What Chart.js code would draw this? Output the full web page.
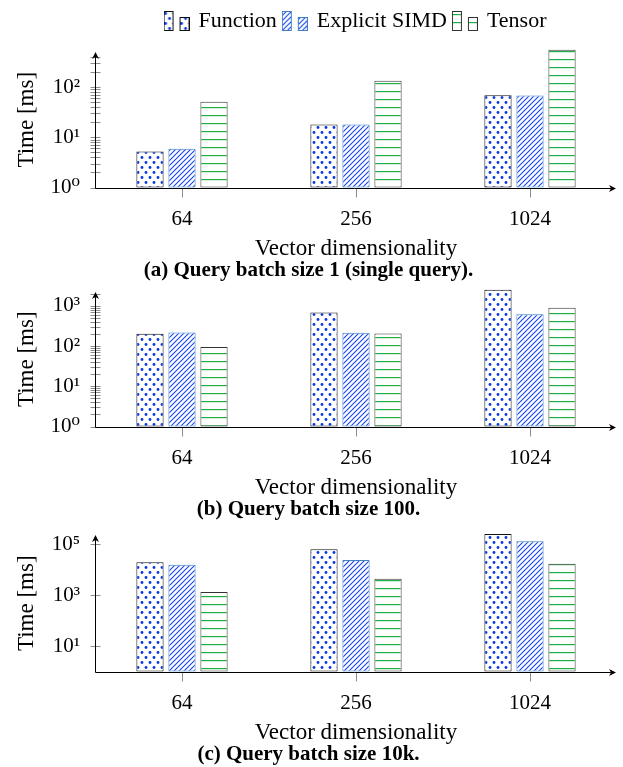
<!DOCTYPE html>
<html>
<head>
<meta charset="utf-8">
<script src="https://cdn.jsdelivr.net/npm/chart.js@4.4.1/dist/chart.umd.min.js"></script>
<style>
body{margin:0;background:#fff;width:623px;height:767px;overflow:hidden;position:relative;}
.box{position:absolute;left:0;width:623px;}
</style>
</head>
<body>
<div class="box" style="top:0;height:282px"><canvas id="chartA"></canvas></div>
<div class="box" style="top:262px;height:259px"><canvas id="chartB"></canvas></div>
<div class="box" style="top:505px;height:261px"><canvas id="chartC"></canvas></div>
<script>
const dims = ["64", "256", "1024"];
const seriesNames = ["Function", "Explicit SIMD", "Tensor"];

// (a) batch size 1
const funcA = [5.2, 18, 69];
const simdA = [5.9, 18, 68];
const tensorA = [51, 134, 555];
const yTicksA = [1, 10, 100];
const yLabelsA = ["10⁰", "10¹", "10²"];

// (b) batch size 100
const funcB = [202, 676, 2500];
const simdB = [218, 214, 620];
const tensorB = [94, 205, 895];
const yTicksB = [1, 10, 100, 1000];
const yLabelsB = ["10⁰", "10¹", "10²", "10³"];

// (c) batch size 10k
const funcC = [19400, 63000, 249000];
const simdC = [15700, 23900, 131000];
const tensorC = [1340, 4370, 17200];
const yTicksC = [10, 1000, 100000];
const yLabelsC = ["10¹", "10³", "10⁵"];

const FONT = "'Liberation Serif', 'DejaVu Serif', serif";

function makeTile(w, h, draw){
    const c = document.createElement("canvas");
    c.width = w; c.height = h;
    const g = c.getContext("2d");
    g.fillStyle = "#fff";
    g.fillRect(0, 0, w, h);
    draw(g, w, h);
    return c;
}

const dotTile = makeTile(8, 10, g => {
    g.fillStyle = "#0636e6";
    [[2, 2.5], [6, 7.5]].forEach(p => {
        g.beginPath(); g.arc(p[0], p[1], 1.4, 0, Math.PI * 2); g.fill();
    });
});
const hatchTile = makeTile(5, 5, g => {
    g.strokeStyle = "#1544f0";
    g.lineWidth = 1.1;
    g.beginPath();
    g.moveTo(-1, 6); g.lineTo(6, -1);
    g.moveTo(-1, 1); g.lineTo(1, -1);
    g.moveTo(4, 6); g.lineTo(6, 4);
    g.stroke();
});
const lineTile = makeTile(4, 8, g => {
    g.fillStyle = "#1fae45";
    g.fillRect(0, 3, 4, 1.2);
});

const pctx = document.createElement("canvas").getContext("2d");
const fills = [
    pctx.createPattern(dotTile, "repeat"),
    pctx.createPattern(hatchTile, "repeat"),
    pctx.createPattern(lineTile, "repeat")
];
const borders = ["#111", "#3f80c6", "#333"];

function legendIcon(i){
    const c = document.createElement("canvas");
    c.width = 26; c.height = 20;
    const g = c.getContext("2d");
    g.fillStyle = g.createPattern([dotTile, hatchTile, lineTile][i], "repeat");
    g.strokeStyle = borders[i];
    g.lineWidth = 1;
    g.fillRect(0.5, 0.5, 9, 19); g.strokeRect(0.5, 0.5, 9, 19);
    g.fillRect(16.5, 6.5, 9, 13); g.strokeRect(16.5, 6.5, 9, 13);
    return c;
}
const icons = [0, 1, 2].map(legendIcon);

// axis lines with arrow heads, tick marks crossing the y axis
const axisPlugin = {
    id: "axisArrows",
    afterDatasetsDraw(chart, args, opts){
        const {ctx, chartArea: a, scales} = chart;
        const x = scales.x, y = scales.y;
        ctx.save();
        ctx.lineWidth = 1;
        ctx.strokeStyle = "#8c8c8c";
        const marks = [...opts.ticks];
        if(opts.minor){
            opts.ticks.forEach(v => {
                for(let m = 2; m <= 9; m++){
                    if(v * m < y.max) marks.push(v * m);
                }
            });
        }
        const ax = Math.round(a.left) + 0.5;
        const ay = Math.round(a.bottom) + 0.5;
        ctx.beginPath();
        marks.forEach(v => {
            const py = Math.round(y.getPixelForValue(v)) + 0.5;
            ctx.moveTo(ax - 5, py); ctx.lineTo(ax + 5, py);
        });
        x.ticks.forEach((t, i) => {
            const px = Math.round(x.getPixelForTick(i)) + 0.5;
            ctx.moveTo(px, ay); ctx.lineTo(px, ay + 9);
        });
        ctx.stroke();

        ctx.strokeStyle = "#000";
        ctx.fillStyle = "#000";
        const top = a.top, right = a.right - 1;
        ctx.beginPath();
        ctx.moveTo(ax, ay); ctx.lineTo(ax, top + 3);
        ctx.moveTo(ax, ay); ctx.lineTo(right - 3, ay);
        ctx.stroke();
        ctx.beginPath();
        ctx.moveTo(ax, top); ctx.lineTo(ax - 3.5, top + 7); ctx.lineTo(ax, top + 5); ctx.lineTo(ax + 3.5, top + 7);
        ctx.closePath(); ctx.fill();
        ctx.beginPath();
        ctx.moveTo(right, ay); ctx.lineTo(right - 7, ay - 3.5); ctx.lineTo(right - 5, ay); ctx.lineTo(right - 7, ay + 3.5);
        ctx.closePath(); ctx.fill();
        ctx.restore();
    }
};

function buildChart(id, func, simd, tensor, yMin, yMax, yTicks, yLabels, minor, caption, showLegend, padTop){
    const values = [func, simd, tensor];
    return new Chart(document.getElementById(id), {
        type: "bar",
        data: {
            labels: dims,
            datasets: seriesNames.map((name, i) => ({
                label: name,
                data: values[i],
                backgroundColor: fills[i],
                borderColor: borders[i],
                borderWidth: 1,
                borderSkipped: false,
                barPercentage: 0.85,
                categoryPercentage: 0.552,
                clip: false
            }))
        },
        options: {
            responsive: true,
            maintainAspectRatio: false,
            animation: false,
            devicePixelRatio: 1,
            layout: {padding: {top: padTop, right: 6, left: 0, bottom: 0}},
            scales: {
                x: {
                    type: "category",
                    offset: true,
                    grid: {display: false, drawTicks: false},
                    border: {display: false},
                    ticks: {color: "#000", font: {family: FONT, size: 21}, padding: 19, maxRotation: 0},
                    afterFit: s => { s.height = 72.5; },
                    title: {display: true, text: "Vector dimensionality", color: "#000",
                        font: {family: FONT, size: 23, lineHeight: 1.0}, padding: {top: 0, bottom: 0}}
                },
                y: {
                    type: "logarithmic",
                    min: yMin,
                    max: yMax,
                    grid: {display: false, drawTicks: false},
                    border: {display: false},
                    afterBuildTicks: s => { s.ticks = yTicks.map(v => ({value: v})); },
                    afterFit: s => { s.width = 95; },
                    ticks: {color: "#000", font: {family: FONT, size: 21}, padding: 15,
                        callback: (v, i) => yLabels[i]},
                    title: {display: true, text: "Time [ms]", color: "#000",
                        font: {family: FONT, size: 23}, padding: {top: 13, bottom: 0}}
                }
            },
            plugins: {
                legend: {
                    display: showLegend,
                    position: "top",
                    fullSize: false,
                    labels: {
                        usePointStyle: true,
                        pointStyleWidth: 22,
                        color: "#000",
                        font: {family: FONT, size: 22},
                        padding: 7,
                        generateLabels: chart => seriesNames.map((name, i) => ({
                            text: name, pointStyle: icons[i], fillStyle: fills[i],
                            strokeStyle: borders[i], lineWidth: 0, hidden: false, datasetIndex: i
                        }))
                    }
                },
                // empty spacer between legend and plot area
                subtitle: {
                    display: showLegend,
                    position: "top",
                    weight: 500,
                    text: "",
                    font: {size: 1, lineHeight: 1},
                    padding: {top: 0, bottom: 9}
                },
                title: {
                    display: true,
                    position: "bottom",
                    text: caption,
                    color: "#000",
                    font: {family: FONT, size: 21, weight: "bold", lineHeight: 1.0},
                    padding: {top: 0, bottom: 1}
                },
                tooltip: {enabled: false},
                axisArrows: {ticks: yTicks, minor: minor}
            }
        },
        plugins: [axisPlugin]
    });
}

buildChart("chartA", funcA, simdA, tensorA, 1, 500, yTicksA, yLabelsA, true,
    "(a) Query batch size 1 (single query).", true, 3);
buildChart("chartB", funcB, simdB, tensorB, 1, 2200, yTicksB, yLabelsB, true,
    "(b) Query batch size 100.", false, 30);
buildChart("chartC", funcC, simdC, tensorC, 1, 230000, yTicksC, yLabelsC, false,
    "(c) Query batch size 10k.", false, 30);
</script>
</body>
</html>
